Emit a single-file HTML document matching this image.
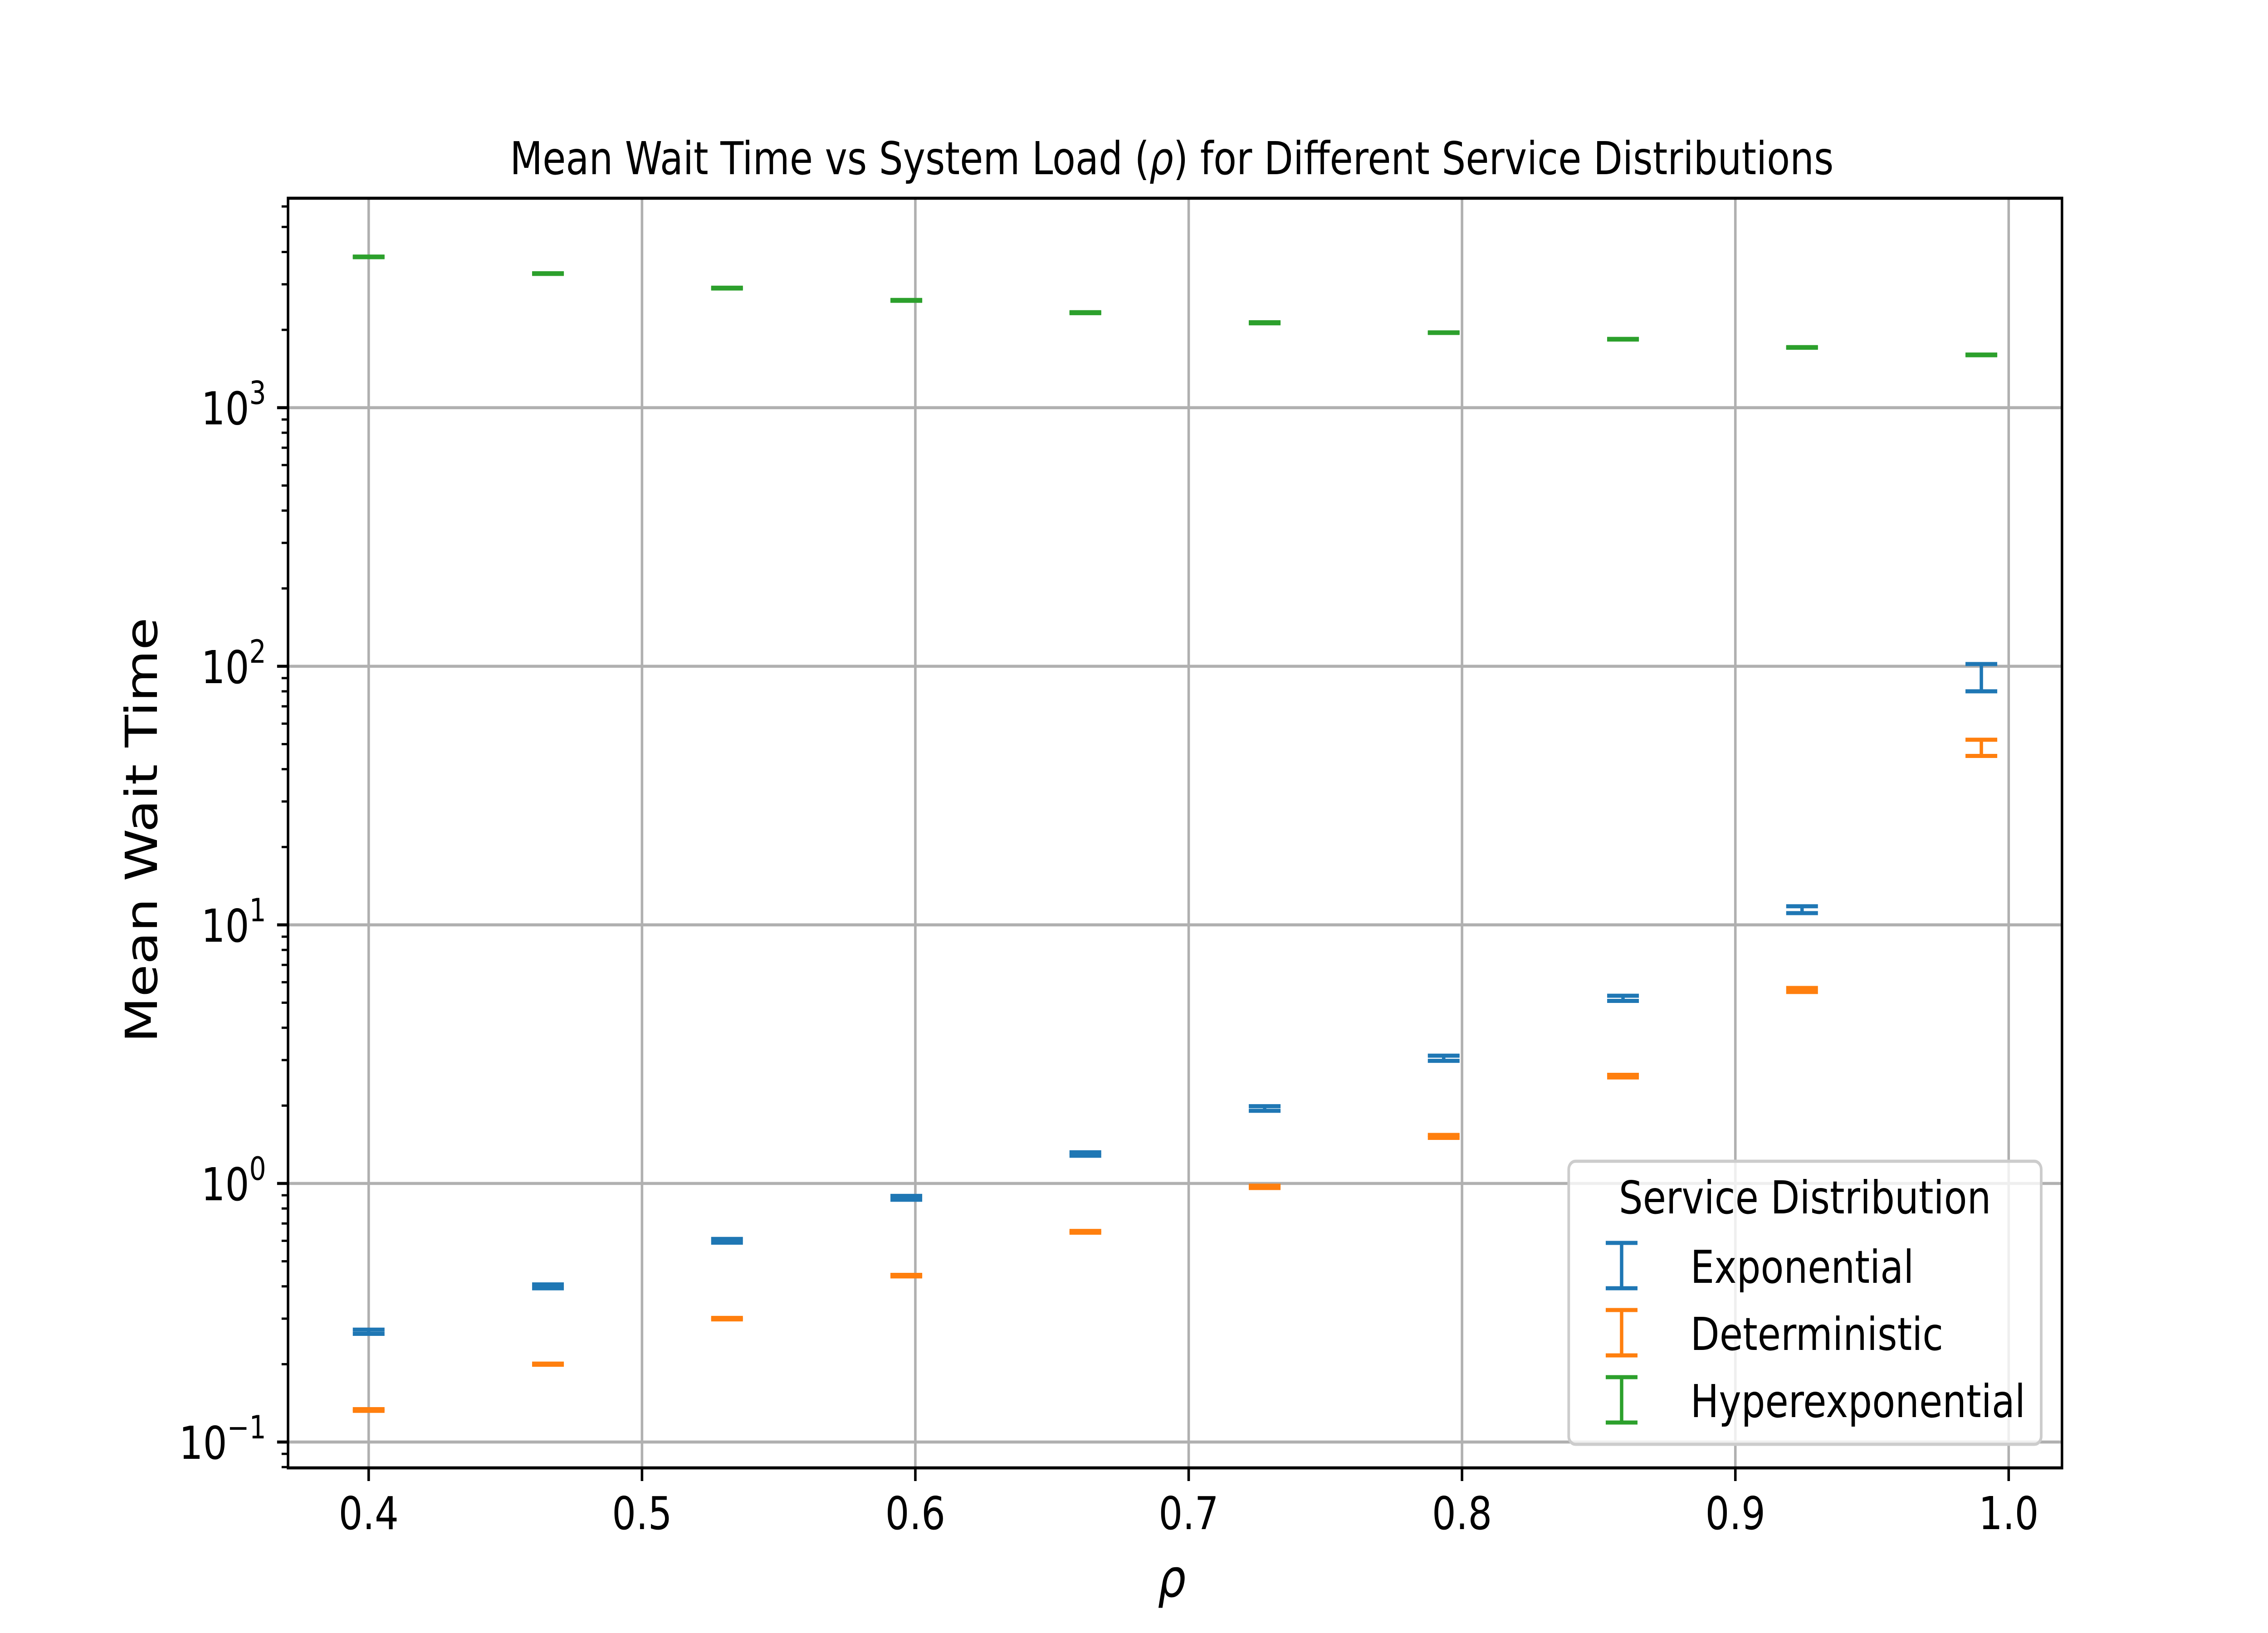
<!DOCTYPE html>
<html><head><meta charset="utf-8"><style>
html,body{margin:0;padding:0;background:#fff;width:100vw;height:100vh;overflow:hidden;}
svg{display:block;width:100vw;height:100vh;font-family:"DejaVu Sans","Liberation Sans",sans-serif;}
</style></head><body>
<svg id="chart" viewBox="0 0 6000 3600" preserveAspectRatio="none" xmlns="http://www.w3.org/2000/svg">
<rect x="0" y="0" width="6000" height="3600" fill="#fff"/>
<g id="grid"></g>
<g id="marks"></g>
<g id="axes"></g>
<text x="3100" y="384" font-size="100" text-anchor="middle">Mean Wait Time vs System Load (<tspan font-style="italic">ρ</tspan>) for Different Service Distributions</text>
<text x="3100" y="3520" font-size="117" font-style="italic" text-anchor="middle">ρ</text>
<text transform="translate(415,1830) rotate(-90)" font-size="117" text-anchor="middle">Mean Wait Time</text>
<g id="legend">
<rect x="4150" y="2560" width="1250" height="624" rx="18" fill="#fff" fill-opacity="0.8" stroke="#cccccc" stroke-width="7"/>
<text x="4775" y="2675" font-size="100" text-anchor="middle">Service Distribution</text>
</g>
</svg>
<script>
const rho = [0.4, 0.4656, 0.5311, 0.5967, 0.6622, 0.7278, 0.7933, 0.8589, 0.9244, 0.99];
const expMean = [0.267, 0.40, 0.60, 0.88, 1.30, 1.95, 3.05, 5.2, 11.4, 91];
const expLo = [0.262, 0.393, 0.590, 0.865, 1.28, 1.91, 2.98, 5.08, 11.1, 80];
const expHi = [0.272, 0.407, 0.610, 0.895, 1.32, 1.99, 3.12, 5.32, 11.8, 102];
const detMean = [0.133, 0.20, 0.30, 0.44, 0.65, 0.97, 1.52, 2.6, 5.6, 48];
const detLo = [0.132, 0.199, 0.298, 0.437, 0.645, 0.96, 1.50, 2.57, 5.5, 45];
const detHi = [0.134, 0.201, 0.302, 0.443, 0.655, 0.98, 1.54, 2.63, 5.7, 52];
const hypMean = [3830, 3300, 2900, 2600, 2330, 2130, 1950, 1840, 1710, 1600];
const hypLo = [3820, 3290, 2890, 2590, 2320, 2120, 1945, 1835, 1705, 1595];
const hypHi = [3840, 3310, 2910, 2610, 2340, 2140, 1955, 1845, 1715, 1605];
const seriesNames = ["Exponential", "Deterministic", "Hyperexponential"];
const xTicks = [0.4, 0.5, 0.6, 0.7, 0.8, 0.9, 1.0];
const xTickLabels = ["0.4", "0.5", "0.6", "0.7", "0.8", "0.9", "1.0"];
const yDecades = [-1, 0, 1, 2, 3];

const NS = "http://www.w3.org/2000/svg";
const L = 762, R = 5455, T = 437, B = 3236;
const xmin = 0.3705, xmax = 1.0195;
const lmin = -1.1, lmax = 3.81;
const X = v => L + (v - xmin) / (xmax - xmin) * (R - L);
const Y = v => B - (Math.log10(v) - lmin) / (lmax - lmin) * (B - T);
function mk(tag, attrs, parent) {
  const e = document.createElementNS(NS, tag);
  for (const k in attrs) e.setAttribute(k, attrs[k]);
  parent.appendChild(e);
  return e;
}
const grid = document.getElementById('grid');
const axes = document.getElementById('axes');
const marks = document.getElementById('marks');
const legend = document.getElementById('legend');

xTicks.forEach((t, i) => {
  const x = X(t);
  const g = mk('line', {x1: x, x2: x, y1: T, y2: B, stroke: '#b0b0b0', 'stroke-width': 6.7}, grid);
  
  
  const tk = mk('line', {x1: x, x2: x, y1: B, y2: B + 29, stroke: '#000', 'stroke-width': 6.7}, axes);
  
  
  const tl = mk('text', {x: x, y: B + 135, 'font-size': 100, 'text-anchor': 'middle'}, axes);
  tl.textContent = xTickLabels[i];
  
  
});
yDecades.forEach(d => {
  const y = Y(Math.pow(10, d));
  const g = mk('line', {x1: L, x2: R, y1: y, y2: y, stroke: '#b0b0b0', 'stroke-width': 6.7}, grid);
  
  
  const tk = mk('line', {x1: L - 29, x2: L, y1: y, y2: y, stroke: '#000', 'stroke-width': 6.7}, axes);
  
  
  const tl = mk('text', {x: L - 58, y: y + 37, 'font-size': 100, 'text-anchor': 'end'}, axes);
  
  
  const base = mk('tspan', {}, tl); base.textContent = '10';
  const sup = mk('tspan', {dy: -45, 'font-size': 70}, tl); sup.textContent = (d < 0 ? '\u2212' : '') + Math.abs(d);
});
for (let d = -2; d <= 3; d++) {
  for (let m = 2; m <= 9; m++) {
    const v = m * Math.pow(10, d);
    const lv = Math.log10(v);
    if (lv < lmin || lv > lmax) continue;
    const y = Y(v);
    const tk = mk('line', {x1: L - 17, x2: L, y1: y, y2: y, stroke: '#000', 'stroke-width': 5}, axes);
    
    
  }
}
const frame = mk('rect', {x: L, y: T, width: R - L, height: B - T, fill: 'none', stroke: '#000', 'stroke-width': 6.7}, axes);



const colors = ['#1f77b4', '#ff7f0e', '#2ca02c'];
const los = [expLo, detLo, hypLo];
const his = [expHi, detHi, hypHi];
const means = [expMean, detMean, hypMean];
for (let s = 0; s < 3; s++) {
  const grp = mk('g', {}, marks);
  
  
  rho.forEach((r, i) => {
    const x = X(r), y1 = Y(los[s][i]), y2 = Y(his[s][i]);
    const bar = mk('g', {stroke: colors[s], 'stroke-width': 9}, grp);
    
    
    bar.setAttribute('data-value', means[s][i]);
    mk('line', {x1: x, x2: x, y1: y1, y2: y2}, bar);
    mk('line', {x1: x - 42, x2: x + 42, y1: y1, y2: y1}, bar);
    mk('line', {x1: x - 42, x2: x + 42, y1: y2, y2: y2}, bar);
  });
}
const capY = [[2740, 2840], [2888, 2988], [3036, 3136]];
const textY = [2828, 2976, 3124];
for (let s = 0; s < 3; s++) {
  const h = mk('g', {stroke: colors[s], 'stroke-width': 9}, legend);
  
  
  mk('line', {x1: 4290, x2: 4290, y1: capY[s][0], y2: capY[s][1]}, h);
  mk('line', {x1: 4248, x2: 4332, y1: capY[s][0], y2: capY[s][0]}, h);
  mk('line', {x1: 4248, x2: 4332, y1: capY[s][1], y2: capY[s][1]}, h);
  const t = mk('text', {x: 4472, y: textY[s], 'font-size': 100}, legend);
  t.textContent = seriesNames[s];
  
  
}
</script>
</body></html>
